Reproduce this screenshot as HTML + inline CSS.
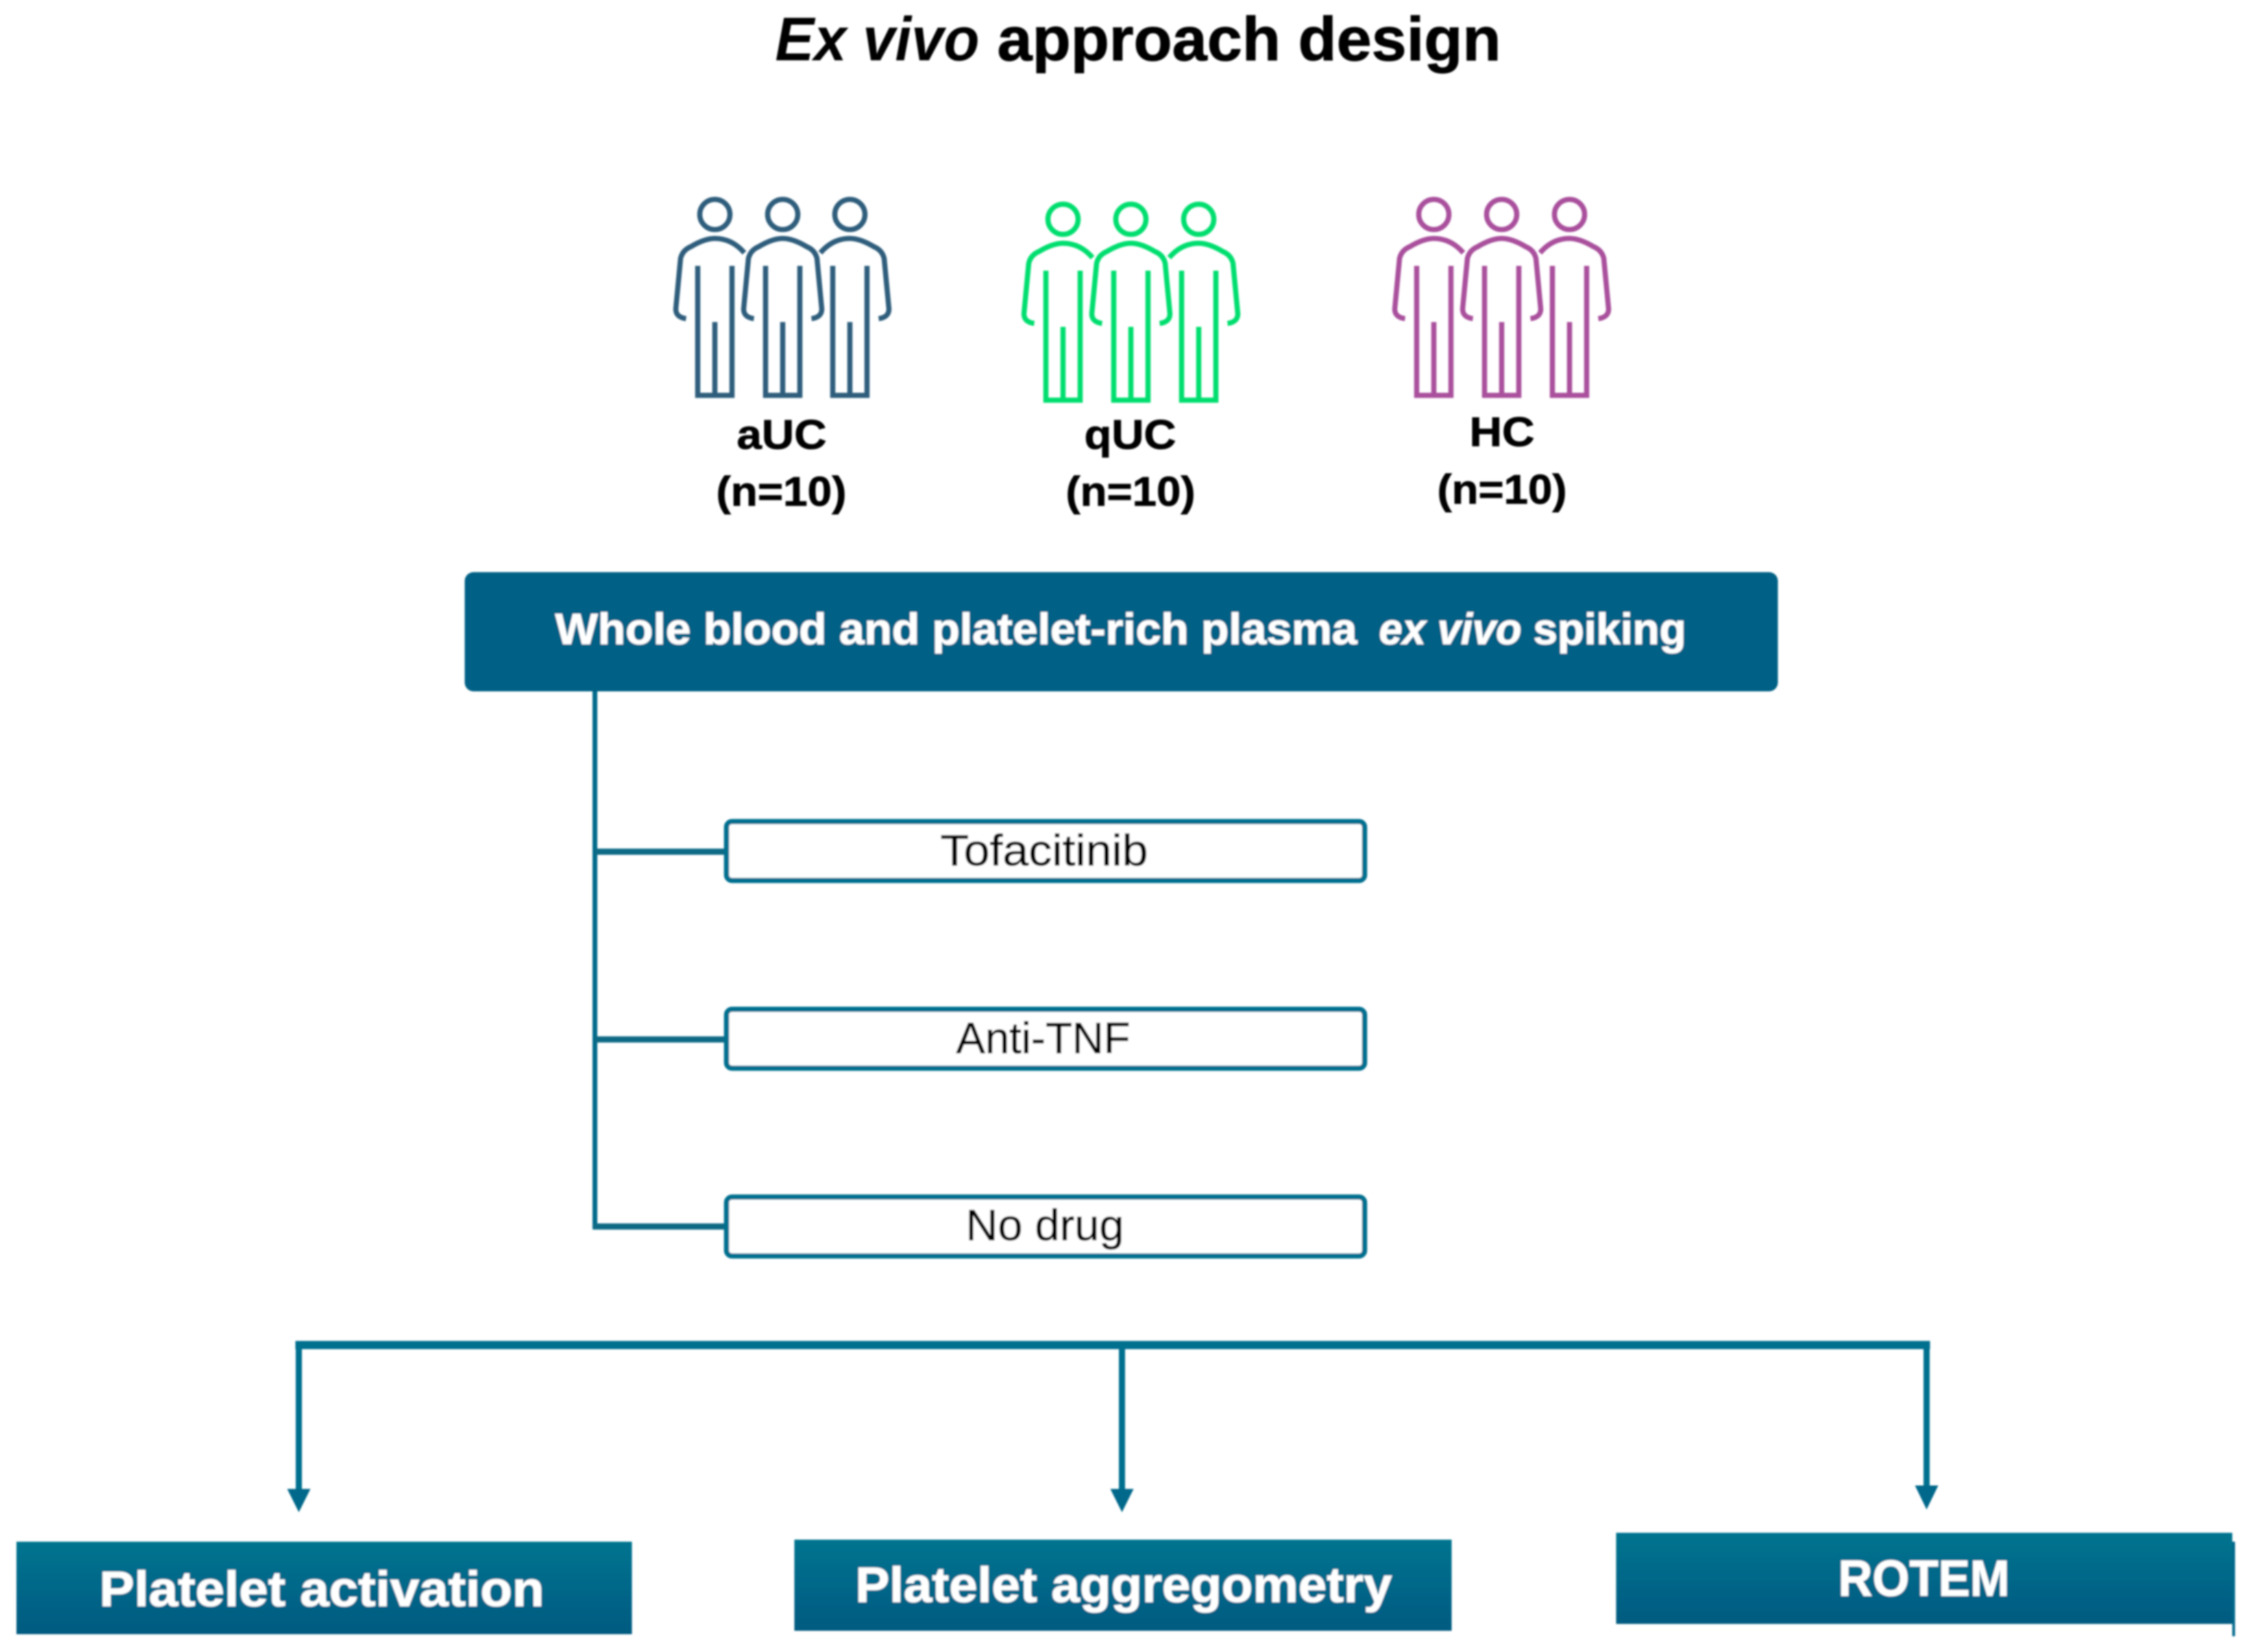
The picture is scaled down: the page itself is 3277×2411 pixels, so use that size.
<!DOCTYPE html>
<html>
<head>
<meta charset="utf-8">
<style>
html,body{margin:0;padding:0;background:#fff;}
svg{display:block;}
text{font-family:"Liberation Sans",Arial,sans-serif;}
.b{font-weight:700;}
</style>
</head>
<body>
<svg xmlns="http://www.w3.org/2000/svg" width="3277" height="2411" viewBox="0 0 3277 2411">
<defs>
<linearGradient id="g" x1="0" y1="0" x2="0" y2="1">
<stop offset="0" stop-color="#04748f"/>
<stop offset="0.5" stop-color="#006789"/>
<stop offset="1" stop-color="#005a80"/>
</linearGradient>
<filter id="soft" x="-2%" y="-2%" width="104%" height="104%"><feGaussianBlur stdDeviation="1.3"/></filter>
<g id="pL">
<circle cx="0" cy="0" r="22"/>
<path d="M-42,152 Q-57,150 -57,138 L-50,64 Q-47,52 -35,47 Q-15,35 0,35 Q25,35 43,56"/>
<path d="M-25,75 V264 H25 V75 M0,157 V264"/>
</g>
<g id="pM">
<circle cx="0" cy="0" r="22"/>
<path d="M-42,152 Q-57,150 -57,138 L-50,64 Q-47,52 -35,47 Q-15,35 0,35 Q15,35 35,47 Q47,52 50,64 L57,138 Q57,150 42,152"/>
<path d="M-25,75 V264 H25 V75 M0,157 V264"/>
</g>
<g id="pR">
<circle cx="0" cy="0" r="22"/>
<path d="M42,152 Q57,150 57,138 L50,64 Q47,52 35,47 Q15,35 0,35 Q-25,35 -43,56"/>
<path d="M-25,75 V264 H25 V75 M0,157 V264"/>
</g>
</defs>
<rect width="3277" height="2411" fill="#fff"/>
<g filter="url(#soft)">

<text y="88" font-size="90" font-weight="700" fill="#000" font-style="italic" x="1131" textLength="298" lengthAdjust="spacingAndGlyphs">Ex vivo</text>
<text y="88" font-size="90" font-weight="700" fill="#000" x="1455" textLength="735" lengthAdjust="spacingAndGlyphs" stroke="#000" stroke-width="1">approach design</text>

<g fill="none" stroke="#2f5d7c" stroke-width="7.5" stroke-linecap="butt">
<use href="#pL" x="1043" y="313"/><use href="#pM" x="1142" y="313"/><use href="#pR" x="1240" y="313"/>
</g>
<g fill="none" stroke="#00de6e" stroke-width="7.5">
<use href="#pL" x="1551" y="320"/><use href="#pM" x="1650" y="320"/><use href="#pR" x="1749" y="320"/>
</g>
<g fill="none" stroke="#a9509c" stroke-width="7.5">
<use href="#pL" x="2092" y="313"/><use href="#pM" x="2191" y="313"/><use href="#pR" x="2290" y="313"/>
</g>

<g font-size="60" fill="#000" font-weight="700" stroke="#000" stroke-width="0.8">
<text x="1075" y="655" textLength="131" lengthAdjust="spacingAndGlyphs">aUC</text>
<text x="1045" y="738" textLength="190" lengthAdjust="spacingAndGlyphs">(n=10)</text>
<text x="1582" y="655" textLength="134" lengthAdjust="spacingAndGlyphs">qUC</text>
<text x="1555" y="738" textLength="189" lengthAdjust="spacingAndGlyphs">(n=10)</text>
<text x="2144" y="651" textLength="95" lengthAdjust="spacingAndGlyphs">HC</text>
<text x="2097" y="735" textLength="189" lengthAdjust="spacingAndGlyphs">(n=10)</text>
</g>

<rect x="678" y="835" width="1916" height="174" rx="13" ry="13" fill="#006185"/>
<g font-size="64" fill="#fff" font-weight="700" stroke="#fff" stroke-width="0.8">
<text x="810" y="940" textLength="1170" lengthAdjust="spacingAndGlyphs">Whole blood and platelet-rich plasma</text>
<text x="2012" y="940" font-style="italic" textLength="208" lengthAdjust="spacingAndGlyphs">ex vivo</text>
<text x="2237" y="940" textLength="223" lengthAdjust="spacingAndGlyphs">spiking</text>
</g>

<path d="M868,1009 V1794" stroke="#00698a" stroke-width="7" fill="none"/>
<g stroke="#0b6a85" stroke-width="9" fill="none">
<path d="M868,1243 H1062"/>
<path d="M868,1517 H1062"/>
<path d="M865,1790 H1062"/>
</g>

<g fill="#fff" stroke="#04708f" stroke-width="7.5">
<rect x="1060" y="1199" width="931" height="86" rx="8" ry="8"/>
<rect x="1060" y="1473" width="931" height="86" rx="8" ry="8"/>
<rect x="1060" y="1747" width="931" height="86" rx="8" ry="8"/>
</g>
<g font-size="64" fill="#000" stroke="#000" stroke-width="0.6">
<text x="1372" y="1263" textLength="303" lengthAdjust="spacingAndGlyphs">Tofacitinib</text>
<text x="1395" y="1537" textLength="254" lengthAdjust="spacingAndGlyphs">Anti-TNF</text>
<text x="1409" y="1810" textLength="231" lengthAdjust="spacingAndGlyphs">No drug</text>
</g>

<path d="M431,1963 H2816" stroke="#006f8f" stroke-width="12" fill="none"/>
<g stroke="#00708f" stroke-width="9" fill="none">
<path d="M436,1958 V2178"/>
<path d="M1637,1958 V2178"/>
<path d="M2811,1958 V2173"/>
</g>
<g fill="#00678a">
<polygon points="419,2173 453,2173 436,2207"/>
<polygon points="1620,2173 1654,2173 1637,2207"/>
<polygon points="2794,2168 2828,2168 2811,2203"/>
</g>

<rect x="24" y="2250" width="898" height="135" fill="url(#g)"/>
<rect x="1159" y="2247" width="959" height="133" fill="url(#g)"/>
<rect x="2358" y="2237" width="899" height="133" fill="url(#g)"/>
<rect x="3257" y="2250" width="4" height="138" fill="#00678a"/>

<g font-size="72" fill="#fff" font-weight="700" stroke="#fff" stroke-width="0.8">
<text x="145" y="2344" textLength="649" lengthAdjust="spacingAndGlyphs">Platelet activation</text>
<text x="1248" y="2338" textLength="783" lengthAdjust="spacingAndGlyphs">Platelet aggregometry</text>
<text x="2682" y="2329" font-size="74" textLength="250" lengthAdjust="spacingAndGlyphs">ROTEM</text>
</g>
</g>
</svg>
</body>
</html>
